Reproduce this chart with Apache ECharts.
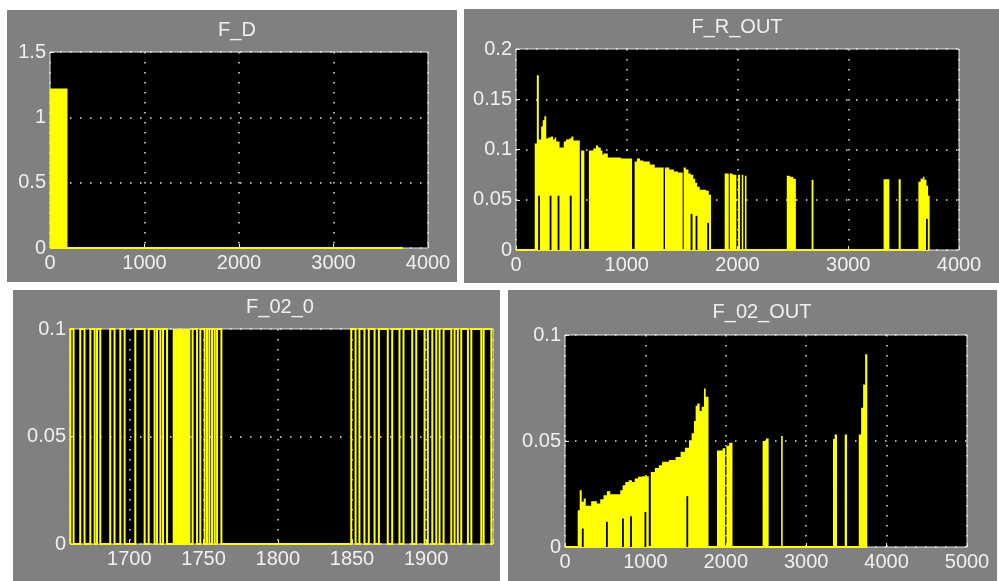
<!DOCTYPE html>
<html><head><meta charset="utf-8">
<script src="https://cdn.jsdelivr.net/npm/echarts/dist/echarts.min.js"></script>
<style>
html,body{margin:0;padding:0;background:#fff;}
#wrap{position:relative;width:999px;height:581px;overflow:hidden;background:#fff;}
.panel{position:absolute;background:#808080;}
#chart{position:absolute;left:0;top:0;width:999px;height:581px;}
</style></head><body>
<div id="wrap">
<div class="panel" style="left:7px;top:10px;width:450px;height:272px"></div>
<div class="panel" style="left:464px;top:9px;width:535px;height:274px"></div>
<div class="panel" style="left:13px;top:290px;width:487px;height:291px"></div>
<div class="panel" style="left:508px;top:290px;width:489px;height:291px"></div>
<div id="chart"></div>
</div>
<script>
// ---------- DATA ----------
const titles = ['F_D', 'F_R_OUT', 'F_02_0', 'F_02_OUT'];

// F_D : stairs (value holds from x until next x)
const fdX = [0, 185, 3735];
const fdY = [1.22, 0, 0];

// F_R_OUT : stairs envelope
const frX = [0, 169, 188, 206, 227, 241, 256, 273, 291, 314, 334, 349, 363, 393, 431, 451, 480, 500, 518, 576, 588, 617, 658, 698, 722, 742, 765, 780, 792, 829, 946, 1048, 1071, 1092, 1120, 1150, 1208, 1252, 1333, 1345, 1383, 1426, 1464, 1505, 1514, 1534, 1557, 1578, 1601, 1618, 1636, 1659, 1718, 1741, 1761, 1884, 1921, 1930, 1956, 1990, 2005, 2023, 2038, 2052, 2067, 2081, 2445, 2474, 2503, 2527, 2669, 2686, 3319, 3371, 3455, 3474, 3633, 3653, 3674, 3688, 3706, 3721, 3735];
const frY = [0, 0.106, 0.174, 0.110, 0.123, 0.129, 0.133, 0.111, 0.112, 0.113, 0.110, 0.112, 0.108, 0.102, 0.108, 0.110, 0.111, 0.113, 0.109, 0, 0.099, 0, 0.099, 0.101, 0.104, 0.102, 0.099, 0.095, 0.096, 0.092, 0.091, 0, 0.088, 0.091, 0.089, 0.088, 0.085, 0.082, 0, 0.082, 0.080, 0.078, 0.077, 0, 0.082, 0.080, 0.076, 0.075, 0.071, 0.067, 0.063, 0.060, 0.059, 0.055, 0, 0.076, 0, 0.076, 0.075, 0, 0.075, 0, 0.075, 0, 0.074, 0, 0.074, 0.073, 0.071, 0, 0.070, 0, 0.0705, 0, 0.0705, 0, 0.068, 0.071, 0.073, 0.070, 0.064, 0.054, 0];
// F_R_OUT : narrow dips from zero up to a level
const frNotchX = [208, 312, 384, 494, 1585, 1630, 1735, 3710];
const frNotchY = [0.054, 0.054, 0.054, 0.054, 0.036, 0.034, 0.027, 0.031];

// F_02_0 : pulses between 0 and 0.1
const o2oLevel = 0.1;
const o2oStart = [1660.3, 1666.9, 1673.7, 1678.2, 1687.1, 1693.9, 1704.0, 1713.0, 1718.6, 1722.7, 1742.6, 1747.8, 1752.3, 1755.7, 1759.1,
                  1849.5, 1855.0, 1861.3, 1868.1, 1877.1, 1884.7, 1893.3, 1901.1, 1906.8, 1911.7, 1919.1, 1923.6, 1930.4, 1938.7];
const o2oEnd   = [1662.4, 1669.8, 1676.6, 1680.4, 1690.0, 1696.8, 1710.3, 1717.0, 1720.9, 1725.4, 1745.6, 1750.7, 1753.9, 1757.5, 1762.0,
                  1852.4, 1858.4, 1865.2, 1874.1, 1882.0, 1890.6, 1898.9, 1904.1, 1909.0, 1916.9, 1921.3, 1928.1, 1937.1, 1943.9];
const o2oDense = [1729.2, 1741.1];   // densely switching stretch

// F_02_OUT : stairs envelope
const foX = [0, 158, 183, 208, 233, 258, 325, 396, 438, 479, 521, 563, 688, 717, 750, 792, 833, 867, 908, 958, 1042, 1067, 1117, 1167, 1208, 1292, 1375, 1438, 1492, 1542, 1575, 1604, 1625, 1646, 1675, 1700, 1729, 1750, 1785, 1890, 1960, 1992, 2008, 2042, 2083, 2458, 2500, 2533, 2688, 2708, 3333, 3354, 3383, 3479, 3508, 3654, 3683, 3708, 3733, 3760];
const foY = [0, 0.0173, 0.0268, 0.0213, 0.0229, 0.0194, 0.0216, 0.0205, 0.0225, 0.0244, 0.0263, 0.0249, 0.0268, 0.0291, 0.0307, 0.0315, 0.0307, 0.0323, 0.0331, 0.0334, 0, 0.0354, 0.0373, 0.0386, 0.0402, 0.0410, 0.0425, 0.0449, 0.0468, 0.0504, 0.0536, 0.0594, 0.0666, 0.0677, 0.0641, 0.0662, 0.0748, 0.0709, 0, 0.0455, 0.0466, 0, 0.0478, 0.0492, 0, 0.0500, 0.0512, 0, 0.0524, 0, 0.0509, 0.0531, 0, 0.0531, 0, 0.0531, 0.0657, 0.0767, 0.0909, 0];
const foNotchX = [221, 521, 721, 821, 1000, 1521];
const foNotchY = [0.0087, 0.0119, 0.0134, 0.0145, 0.0165, 0.0240];

// axis settings
const xRanges = [[0, 4000, 1000], [0, 4000, 1000], [1660, 1945, null], [0, 5000, 1000]];
const yRanges = [[0, 1.5, 0.5], [0, 0.2, 0.05], [0, 0.1, 0.05], [0, 0.1, 0.05]];

// ---------- STYLE / LAYOUT ----------
const YEL = '#ffff00';
const TXT = '#f0f0f0';
const FONT = 'Liberation Sans';
const grids = [
  {left: 50, top: 52, width: 378, height: 196},
  {left: 516, top: 49, width: 443, height: 201},
  {left: 70, top: 329, width: 423, height: 215},
  {left: 565, top: 335, width: 402, height: 212}
];
const titlePos = [[237, 30], [737, 27], [280, 307], [762, 312]];

const gridOpts = grids.map(g => Object.assign({show: true, backgroundColor: '#000', borderColor: '#e6e6e6', borderWidth: 1, containLabel: false}, g));
const dotted = {color: '#e8e8e8', width: 1.5, type: [1.5, 8.5]};
const plainNum = v => String(Math.round(v * 1e6) / 1e6);

const xAxes = xRanges.map((r, i) => {
  const a = {gridIndex: i, type: 'value', min: r[0], max: r[1],
    axisLine: {show: false},
    axisTick: {show: true, inside: true, length: 4, lineStyle: {color: '#e6e6e6'}},
    splitLine: {show: true, lineStyle: dotted},
    axisLabel: {color: TXT, fontSize: 20, fontFamily: FONT, margin: 5, formatter: plainNum}};
  if (r[2] !== null) a.interval = r[2];
  else {
    a.splitNumber = 5;
    a.axisLabel.formatter = v => (Math.abs(v % 50) < 1e-6 ? String(v) : '');
  }
  return a;
});
const yAxes = yRanges.map((r, i) => ({gridIndex: i, type: 'value', min: r[0], max: r[1], interval: r[2],
  axisLine: {show: false},
  axisTick: {show: true, inside: true, length: 4, lineStyle: {color: '#e6e6e6'}},
  splitLine: {show: true, lineStyle: dotted},
  axisLabel: {color: TXT, fontSize: 20, fontFamily: FONT, margin: 4, formatter: plainNum}}));

function pairs(xs, ys) { return xs.map((x, i) => [x, ys[i]]); }
// expand stairs samples into explicit corner vertices (value ys[i] holds from xs[i] to xs[i+1])
function stairVerts(xs, ys) {
  const out = [];
  xs.forEach((x, i) => {
    if (i > 0) out.push([x, ys[i - 1]]);
    out.push([x, ys[i]]);
  });
  return out;
}

// filled stairs drawn as one polygon through the axis scales
function stairsArea(xs, ys, gi) {
  const verts = stairVerts(xs, ys);
  return {type: 'custom', xAxisIndex: gi, yAxisIndex: gi, silent: true, z: 3,
    data: verts,
    renderItem: (params, api) => {
      if (params.dataIndex !== 0) return null;
      const pts = verts.map(v => api.coord(v));
      pts.push(api.coord([xs[xs.length - 1], 0]));
      pts.push(api.coord([xs[0], 0]));
      return {type: 'polygon', shape: {points: pts}, style: {fill: YEL, stroke: null}};
    }};
}
function baseline(xs, gi) {
  return {type: 'line', xAxisIndex: gi, yAxisIndex: gi, symbol: 'none', silent: true, clip: false,
    data: [[xs[0], 0], [xs[xs.length - 1], 0]], lineStyle: {width: 2, color: YEL}, z: 4};
}
function notches(xs, ys, gi) {
  return {type: 'custom', xAxisIndex: gi, yAxisIndex: gi, silent: true, z: 5,
    data: pairs(xs, ys),
    renderItem: (params, api) => {
      const p0 = api.coord([api.value(0), 0]);
      const p1 = api.coord([api.value(0), api.value(1)]);
      return {type: 'rect', shape: {x: p0[0] - 0.9, y: p1[1], width: 1.8, height: p0[1] - p1[1]}, style: {fill: '#000'}};
    }};
}

// pulses for F_02_0 (explicit corners), drawn as one polyline
const o2oPts = [[xRanges[2][0], 0]];
o2oStart.forEach((s, i) => {
  o2oPts.push([s, 0], [s, o2oLevel], [o2oEnd[i], o2oLevel], [o2oEnd[i], 0]);
});
o2oPts.push([xRanges[2][1], 0]);

const o2oSeries = {type: 'custom', xAxisIndex: 2, yAxisIndex: 2, silent: true, z: 4,
  data: o2oPts,
  renderItem: (params, api) => {
    if (params.dataIndex !== 0) return null;
    const pts = o2oPts.map(v => api.coord(v));
    return {type: 'polyline', shape: {points: pts}, style: {stroke: YEL, lineWidth: 2, fill: null}};
  }};
const o2oDenseSeries = stairsArea([o2oDense[0], o2oDense[1]], [o2oLevel, o2oLevel], 2);

const series = [
  stairsArea(fdX, fdY, 0), baseline(fdX, 0),
  stairsArea(frX, frY, 1), baseline(frX, 1), notches(frNotchX, frNotchY, 1),
  o2oSeries, o2oDenseSeries,
  stairsArea(foX, foY, 3), baseline(foX, 3), notches(foNotchX, foNotchY, 3)
];

const graphic = titles.map((t, i) => ({type: 'text', x: titlePos[i][0], y: titlePos[i][1], silent: true,
  style: {text: t, fill: TXT, font: '20px "' + FONT + '"', align: 'center', verticalAlign: 'middle'}}));

const chart = echarts.init(document.getElementById('chart'), null, {renderer: 'canvas'});
chart.setOption({
  animation: false,
  backgroundColor: 'transparent',
  grid: gridOpts,
  xAxis: xAxes,
  yAxis: yAxes,
  series: series,
  graphic: graphic
});
</script>
</body></html>
